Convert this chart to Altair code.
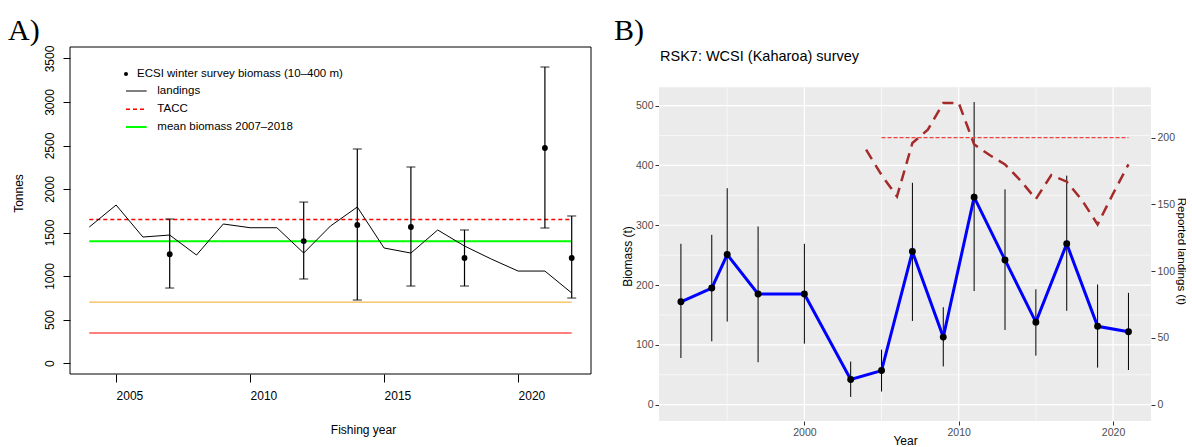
import altair as alt
import pandas as pd

FONT = "Liberation Sans"
SERIF = "Liberation Serif"

# ---------------- Panel A data ----------------
a_land_years = list(range(2004, 2023))
a_land_tonnes = [1563, 1816, 1448, 1471, 1241, 1598, 1555, 1555, 1264, 1575,
                 1793, 1322, 1264, 1529, 1345, 1195, 1057, 1057, 805]
a_surv_years = [2007, 2012, 2014, 2016, 2018, 2021, 2022]
a_surv_biomass = [1250, 1402, 1586, 1563, 1207, 2471, 1207]
a_surv_lower = [862, 966, 724, 885, 885, 1552, 747]
a_surv_upper = [1655, 1850, 2460, 2253, 1529, 3402, 1690]
a_ref_span = [2004, 2022]
a_tacc = 1650
a_mean_biomass = 1400
a_ref_orange = 700
a_ref_red = 345
a_legend_labels = ["ECSI winter survey biomass (10–400 m)", "landings", "TACC",
                   "mean biomass 2007–2018"]
a_x_ticks = [2005, 2010, 2015, 2020]
a_y_ticks = [0, 500, 1000, 1500, 2000, 2500, 3000, 3500]

# ---------------- Panel B data ----------------
b_years = [1992, 1994, 1995, 1997, 2000, 2003, 2005, 2007, 2009, 2011, 2013, 2015, 2017, 2019, 2021]
b_biomass = [172, 195, 251, 185, 185, 42, 57, 256, 113, 347, 242, 138, 269, 131, 122]
b_lower = [78, 106, 139, 71, 102, 13, 22, 140, 64, 190, 125, 82, 157, 62, 58]
b_upper = [269, 284, 362, 298, 269, 72, 92, 371, 163, 506, 360, 193, 383, 201, 187]
b_land_years = list(range(2004, 2022))
b_landings = [191, 172, 156, 196, 206, 226, 226, 195, 187, 180, 168, 154, 172, 167, 153, 135, 158, 180]
b_tacc = 200
b_tacc_span = [2005, 2021]
b_x_major = [2000, 2010, 2020]
b_x_minor = [1995, 2005, 2015]
b_y_major = [0, 100, 200, 300, 400, 500]
b_y_minor = [50, 150, 250, 350, 450]
b_land_ticks = [0, 50, 100, 150, 200]

# ---------------- layout / scales ----------------
A_W, A_H = 521, 327
A_XD = [2003.28, 2022.72]
A_YD = [-126, 3632]

B_W, B_H = 492, 374
B_XD = [1990.58, 2022.46]
B_YD = [-27.3, 598.1]          # view extends above the grey panel
B_PANEL_TOP = 530.6            # top of grey panel in biomass units
B_K = 2.2324                   # biomass units per landings unit (secondary axis)
B_LD = [B_YD[0] / B_K, B_YD[1] / B_K]


def ax_a(field=None, datum=None):
    kw = dict(scale=alt.Scale(domain=A_XD, nice=False, zero=False),
              axis=alt.Axis(values=a_x_ticks, format="d", title="Fishing year",
                            titleX=293, titleY=55, titleAlign="center", titleBaseline="middle",
                            titleFont=FONT, titleFontSize=12, titleFontWeight="normal", titleColor="#000",
                            labelFont=FONT, labelFontSize=12, labelColor="#000", labelPadding=8,
                            labelAlign="left", tickSize=8, tickColor="#000", domain=False, grid=False))
    if datum is not None:
        return alt.X(datum=datum, type="quantitative", **kw)
    return alt.X(field, type="quantitative", **kw)


def ay_a(field=None, datum=None):
    kw = dict(scale=alt.Scale(domain=A_YD, nice=False, zero=False),
              axis=alt.Axis(values=a_y_ticks, format="d", title="Tonnes",
                            titleX=-52, titleY=146, titleAngle=-90, titleAlign="center",
                            titleBaseline="middle", titleFont=FONT, titleFontSize=12,
                            titleFontWeight="normal", titleColor="#000",
                            labelAngle=-90, labelAlign="center", labelBaseline="alphabetic",
                            labelFont=FONT, labelFontSize=12, labelColor="#000", labelPadding=10,
                            tickSize=7, tickColor="#000", domain=False, grid=False))
    if datum is not None:
        return alt.Y(datum=datum, type="quantitative", **kw)
    return alt.Y(field, type="quantitative", **kw)


def ax_b(field=None, datum=None):
    kw = dict(scale=alt.Scale(domain=B_XD, nice=False, zero=False),
              axis=alt.Axis(values=b_x_major, format="d", title="Year",
                            titleX=B_W / 2, titleY=14, titleAlign="center", titleBaseline="top",
                            titleFont=FONT, titleFontSize=12, titleFontWeight="normal", titleColor="#000",
                            labelFont=FONT, labelFontSize=10.5, labelColor="#4d4d4d", labelPadding=2,
                            tickSize=4, tickColor="#333", domain=False, grid=False))
    if datum is not None:
        return alt.X(datum=datum, type="quantitative", **kw)
    return alt.X(field, type="quantitative", **kw)


def ay_b(field=None, datum=None):
    kw = dict(scale=alt.Scale(domain=B_YD, nice=False, zero=False),
              axis=alt.Axis(values=b_y_major, title="Biomass (t)",
                            titleX=-32, titleY=209, titleAngle=-90, titleAlign="center",
                            titleBaseline="middle", titleFont=FONT, titleFontSize=12,
                            titleFontWeight="normal", titleColor="#000",
                            labelFont=FONT, labelFontSize=10.5, labelColor="#4d4d4d", labelPadding=2,
                            tickSize=4, tickColor="#333", domain=False, grid=False))
    if datum is not None:
        return alt.Y(datum=datum, type="quantitative", **kw)
    return alt.Y(field, type="quantitative", **kw)


def ay_land(field):
    return alt.Y(field, type="quantitative",
                 scale=alt.Scale(domain=B_LD, nice=False, zero=False),
                 axis=alt.Axis(orient="right", values=b_land_ticks, title="Reported landings (t)",
                               titleX=29, titleY=204, titleAngle=90, titleAlign="center",
                               titleBaseline="middle", titleFont=FONT, titleFontSize=11.5,
                               titleFontWeight="normal", titleColor="#000",
                               labelFont=FONT, labelFontSize=10.5, labelColor="#4d4d4d", labelPadding=2,
                               tickSize=4, tickColor="#333", domain=False, grid=False))


# ---------------- Panel A ----------------
land_a = pd.DataFrame({"year": a_land_years, "value": a_land_tonnes})
surv_a = pd.DataFrame({"year": a_surv_years, "value": a_surv_biomass,
                       "lo": a_surv_lower, "hi": a_surv_upper})


def ref_df(v):
    return pd.DataFrame({"x0": [a_ref_span[0]], "x1": [a_ref_span[1]], "v": [v]})


one = pd.DataFrame({"k": [0]})

frame_a = alt.Chart(one).mark_rect(fillOpacity=0, stroke="black", strokeWidth=1).encode(
    x=ax_a(datum=A_XD[0]), x2=alt.datum(A_XD[1]), y=ay_a(datum=A_YD[0]), y2=alt.datum(A_YD[1]))

orange_a = alt.Chart(ref_df(a_ref_orange)).mark_rule(color="#F5A623", strokeWidth=1).encode(
    x=ax_a("x0"), x2="x1", y=ay_a("v"))
red_a = alt.Chart(ref_df(a_ref_red)).mark_rule(color="#FF7F7F", strokeWidth=2).encode(
    x=ax_a("x0"), x2="x1", y=ay_a("v"))
green_a = alt.Chart(ref_df(a_mean_biomass)).mark_rule(color="#00FF00", strokeWidth=2).encode(
    x=ax_a("x0"), x2="x1", y=ay_a("v"))
tacc_a = alt.Chart(ref_df(a_tacc)).mark_rule(color="#FF0000", strokeWidth=1.4, strokeDash=[4, 3]).encode(
    x=ax_a("x0"), x2="x1", y=ay_a("v"))
landline_a = alt.Chart(land_a).mark_line(color="black", strokeWidth=1).encode(
    x=ax_a("year"), y=ay_a("value"))
err_a = alt.Chart(surv_a).mark_rule(color="black", strokeWidth=1.2).encode(
    x=ax_a("year"), y=ay_a("lo"), y2="hi")
caplo_a = alt.Chart(surv_a).mark_tick(orient="horizontal", size=9, thickness=1.2, color="black").encode(
    x=ax_a("year"), y=ay_a("lo"))
caphi_a = alt.Chart(surv_a).mark_tick(orient="horizontal", size=9, thickness=1.2, color="black").encode(
    x=ax_a("year"), y=ay_a("hi"))
pts_a = alt.Chart(surv_a).mark_circle(color="black", size=34, opacity=1).encode(
    x=ax_a("year"), y=ay_a("value"))

# legend (drawn inside the plot, like the R legend)
leg_pt = alt.Chart(one).mark_circle(color="black", size=16, opacity=1).encode(
    x=alt.value(56), y=alt.value(27))
leg_t0 = alt.Chart(one).mark_text(text=a_legend_labels[0], font=FONT, fontSize=11.5, align="left",
                                  baseline="middle", color="black").encode(x=alt.value(67), y=alt.value(27))
leg_items = []
for lbl, col, dash, w, yy in [(a_legend_labels[1], "black", [1, 0], 1, 44),
                              (a_legend_labels[2], "#FF0000", [4, 3], 1.4, 62.3),
                              (a_legend_labels[3], "#00FF00", [1, 0], 2, 80)]:
    leg_items.append(alt.Chart(one).mark_rule(color=col, strokeWidth=w, strokeDash=dash).encode(
        x=alt.value(56), x2=alt.value(76.7), y=alt.value(yy)))
    leg_items.append(alt.Chart(one).mark_text(text=lbl, font=FONT, fontSize=11.5, align="left",
                                              baseline="middle", color="black").encode(
        x=alt.value(87.3), y=alt.value(yy)))

tag_a = alt.Chart(one).mark_text(text="A)", font=SERIF, fontSize=30, align="left",
                                 baseline="alphabetic", color="black").encode(
    x=alt.value(-62), y=alt.value(-6.7))

panel_a = alt.layer(frame_a, orange_a, red_a, green_a, tacc_a, landline_a, err_a, caplo_a, caphi_a,
                    pts_a, leg_pt, leg_t0, *leg_items, tag_a).properties(width=A_W, height=A_H)

# ---------------- Panel B ----------------
bio_b = pd.DataFrame({"year": b_years, "value": b_biomass, "lo": b_lower, "hi": b_upper})
land_b = pd.DataFrame({"year": b_land_years, "value": b_landings})
tacc_b = pd.DataFrame({"x0": [b_tacc_span[0]], "x1": [b_tacc_span[1]], "v": [b_tacc]})

bg_b = alt.Chart(one).mark_rect(color="#EBEBEB").encode(
    x=ax_b(datum=B_XD[0]), x2=alt.datum(B_XD[1]), y=ay_b(datum=B_YD[0]), y2=alt.datum(B_PANEL_TOP))
gx_minor = alt.Chart(pd.DataFrame({"g": b_x_minor})).mark_rule(color="white", strokeWidth=0.6).encode(
    x=ax_b("g"), y=ay_b(datum=B_YD[0]), y2=alt.datum(B_PANEL_TOP))
gx_major = alt.Chart(pd.DataFrame({"g": b_x_major})).mark_rule(color="white", strokeWidth=1.2).encode(
    x=ax_b("g"), y=ay_b(datum=B_YD[0]), y2=alt.datum(B_PANEL_TOP))
gy_minor = alt.Chart(pd.DataFrame({"g": b_y_minor})).mark_rule(color="white", strokeWidth=0.6).encode(
    y=ay_b("g"), x=ax_b(datum=B_XD[0]), x2=alt.datum(B_XD[1]))
gy_major = alt.Chart(pd.DataFrame({"g": b_y_major})).mark_rule(color="white", strokeWidth=1.2).encode(
    y=ay_b("g"), x=ax_b(datum=B_XD[0]), x2=alt.datum(B_XD[1]))
err_b = alt.Chart(bio_b).mark_rule(color="black", strokeWidth=1).encode(
    x=ax_b("year"), y=ay_b("lo"), y2="hi")
line_b = alt.Chart(bio_b).mark_line(color="#0000FF", strokeWidth=3).encode(
    x=ax_b("year"), y=ay_b("value"))
pts_b = alt.Chart(bio_b).mark_circle(color="black", size=48, opacity=1).encode(
    x=ax_b("year"), y=ay_b("value"))
tag_b = alt.Chart(one).mark_text(text="B)", font=SERIF, fontSize=30, align="left",
                                 baseline="alphabetic", color="black").encode(
    x=alt.value(-45), y=alt.value(-6.7))
title_b = alt.Chart(one).mark_text(text="RSK7: WCSI (Kaharoa) survey", font=FONT, fontSize=14.5,
                                   align="left", baseline="alphabetic", color="black").encode(
    x=alt.value(1), y=alt.value(14))

bio_layer = alt.layer(bg_b, gx_minor, gy_minor, gx_major, gy_major, err_b, line_b, pts_b, tag_b, title_b)

landline_b = alt.Chart(land_b).mark_line(color="#A52A2A", strokeWidth=2.5, strokeDash=[11, 7]).encode(
    x=ax_b("year"), y=ay_land("value"))
taccline_b = alt.Chart(tacc_b).mark_rule(color="#F04040", strokeWidth=1.2, strokeDash=[4, 2]).encode(
    x=ax_b("x0"), x2="x1", y=ay_land("v"))
land_layer = alt.layer(landline_b, taccline_b)

panel_b = alt.layer(bio_layer, land_layer).resolve_scale(y="independent").properties(width=B_W, height=B_H)

chart = alt.hconcat(panel_a, panel_b, spacing=68, bounds="flush").properties(
    padding={"left": 8, "top": 16, "right": 0, "bottom": 0}
).configure(font=FONT, background="white").configure_view(stroke=None)

chart.save("out.html", embed_options={"renderer": "svg", "actions": False})
